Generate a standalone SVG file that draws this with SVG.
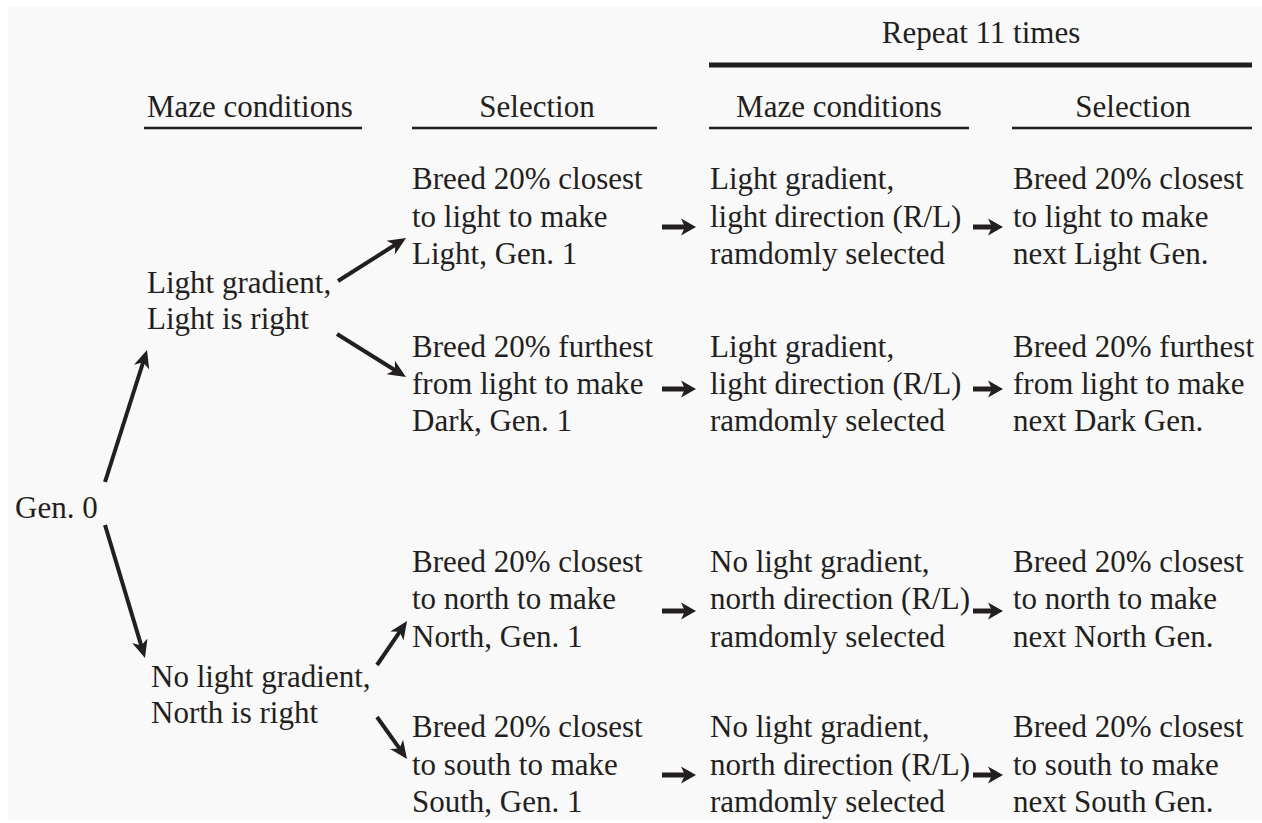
<svg xmlns="http://www.w3.org/2000/svg" width="1262" height="823" viewBox="0 0 1262 823">
<style>
text{font-family:"Liberation Serif","Times New Roman",serif;font-size:31px;fill:#231f20}
.mid{text-anchor:middle}
.rule{stroke:#231f20;stroke-width:2.5;fill:none}
.bar{stroke:#231f20;stroke-width:5;fill:none}
.big{stroke:#231f20;stroke-width:4;fill:none;marker-end:url(#hb)}
.sm{stroke:#231f20;stroke-width:5;fill:none;marker-end:url(#hs)}
</style>
<defs>
<marker id="hb" markerUnits="userSpaceOnUse" markerWidth="18" markerHeight="16" refX="8" refY="8" orient="auto" overflow="visible">
<path d="M0,0 L18,8 L0,16 L5,8 z" fill="#231f20"/>
</marker>
<marker id="hs" markerUnits="userSpaceOnUse" markerWidth="15" markerHeight="17" refX="6" refY="8.5" orient="auto" overflow="visible">
<path d="M0,0 L15,8.5 L0,17 L4,8.5 z" fill="#231f20"/>
</marker>
</defs>
<rect x="0" y="0" width="1262" height="823" fill="#ffffff"/>
<rect x="8" y="7" width="1254" height="813" fill="#f9f9f9"/>

<g id="headers">
<text class="mid" x="981" y="43">Repeat 11 times</text>
<line class="bar" x1="709" y1="65" x2="1252" y2="65"/>
<text x="147" y="117">Maze conditions</text>
<text class="mid" x="537" y="117">Selection</text>
<text class="mid" x="839" y="117">Maze conditions</text>
<text class="mid" x="1133" y="117">Selection</text>
<line class="rule" x1="144" y1="128" x2="362" y2="128"/>
<line class="rule" x1="412" y1="128" x2="657" y2="128"/>
<line class="rule" x1="709" y1="128" x2="969" y2="128"/>
<line class="rule" x1="1012" y1="128" x2="1252" y2="128"/>
</g>

<g id="gen0"><text x="15" y="518">Gen. 0</text></g>

<g id="light-cond"><text x="147" y="293">Light gradient,</text><text x="147" y="329">Light is right</text></g>
<g id="north-cond"><text x="151" y="687">No light gradient,</text><text x="151" y="723">North is right</text></g>

<g id="sel-light"><text x="412" y="189">Breed 20% closest</text><text x="412" y="227">to light to make</text><text x="412" y="264">Light, Gen. 1</text></g>
<g id="sel-dark"><text x="412" y="357">Breed 20% furthest</text><text x="412" y="394">from light to make</text><text x="412" y="431">Dark, Gen. 1</text></g>
<g id="sel-north"><text x="412" y="572">Breed 20% closest</text><text x="412" y="609">to north to make</text><text x="412" y="647">North, Gen. 1</text></g>
<g id="sel-south"><text x="412" y="737">Breed 20% closest</text><text x="412" y="775">to south to make</text><text x="412" y="812">South, Gen. 1</text></g>

<g id="maze-light"><text x="710" y="189">Light gradient,</text><text x="710" y="227">light direction (R/L)</text><text x="710" y="264">ramdomly selected</text></g>
<g id="maze-dark"><text x="710" y="357">Light gradient,</text><text x="710" y="394">light direction (R/L)</text><text x="710" y="431">ramdomly selected</text></g>
<g id="maze-north"><text x="710" y="572">No light gradient,</text><text x="710" y="609">north direction (R/L)</text><text x="710" y="647">ramdomly selected</text></g>
<g id="maze-south"><text x="710" y="737">No light gradient,</text><text x="710" y="775">north direction (R/L)</text><text x="710" y="812">ramdomly selected</text></g>

<g id="next-light"><text x="1013" y="189">Breed 20% closest</text><text x="1013" y="227">to light to make</text><text x="1013" y="264">next Light Gen.</text></g>
<g id="next-dark"><text x="1013" y="357">Breed 20% furthest</text><text x="1013" y="394">from light to make</text><text x="1013" y="431">next Dark Gen.</text></g>
<g id="next-north"><text x="1013" y="572">Breed 20% closest</text><text x="1013" y="609">to north to make</text><text x="1013" y="647">next North Gen.</text></g>
<g id="next-south"><text x="1013" y="737">Breed 20% closest</text><text x="1013" y="775">to south to make</text><text x="1013" y="812">next South Gen.</text></g>

<g id="connectors">
<line class="big" x1="105" y1="482" x2="144" y2="359.5"/>
<line class="big" x1="105" y1="525" x2="142.1" y2="648.4"/>
<line class="big" x1="338" y1="281" x2="397.6" y2="243.3"/>
<line class="big" x1="337" y1="334" x2="397.5" y2="371.7"/>
<line class="big" x1="377" y1="665" x2="401.4" y2="629.3"/>
<line class="big" x1="377" y1="717" x2="401.2" y2="750.9"/>
<line class="sm" x1="662" y1="227" x2="687" y2="227"/>
<line class="sm" x1="973" y1="227" x2="994" y2="227"/>
<line class="sm" x1="662" y1="389" x2="687" y2="389"/>
<line class="sm" x1="973" y1="389" x2="994" y2="389"/>
<line class="sm" x1="662" y1="611" x2="687" y2="611"/>
<line class="sm" x1="973" y1="611" x2="994" y2="611"/>
<line class="sm" x1="662" y1="775" x2="687" y2="775"/>
<line class="sm" x1="973" y1="775" x2="994" y2="775"/>
</g>
</svg>
